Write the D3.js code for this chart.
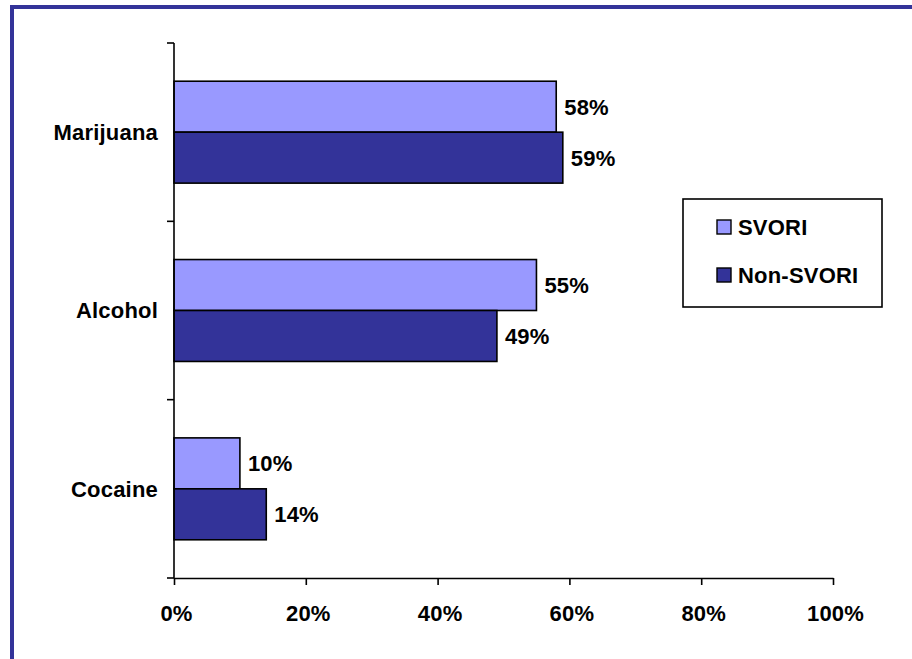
<!DOCTYPE html>
<html>
<head>
<meta charset="utf-8">
<script src="https://cdn.jsdelivr.net/npm/d3@7/dist/d3.min.js"></script>
<style>
  html, body { margin: 0; padding: 0; background: #fff; }
  svg { display: block; }
  text { font-family: Arial, "Liberation Sans", Helvetica, sans-serif; font-weight: bold; fill: #000; }
</style>
</head>
<body>
<script>
// Substance use, SVORI vs Non-SVORI participants
const categories = ["Marijuana", "Alcohol", "Cocaine"];
const seriesNames = ["SVORI", "Non-SVORI"];
const svoriValues = [58, 55, 10];
const nonSvoriValues = [59, 49, 14];
const xTicks = [0, 20, 40, 60, 80, 100];
const seriesColors = ["#9999FF", "#333399"];

const W = 912, H = 659;
const fontSize = 22;
const spacing = "0.2px";

const svg = d3.select("body").append("svg")
  .attr("width", W).attr("height", H);

// Frame: thick blue rule along the top and left edges
svg.append("rect").attr("x", 10).attr("y", 5).attr("width", W - 10).attr("height", 4).attr("fill", "#333399");
svg.append("rect").attr("x", 10).attr("y", 5).attr("width", 4).attr("height", H - 5).attr("fill", "#333399");

const plot = { left: 174, right: 833, top: 43, bottom: 578 };

const x = d3.scaleLinear().domain([0, 100]).range([plot.left, plot.right]);
const y = d3.scaleBand().domain(categories).range([plot.top, plot.bottom]).padding(0);
const ySub = d3.scaleBand().domain(seriesNames).range([0, y.bandwidth()]).paddingInner(0).paddingOuter(0.75);

const rows = categories.map((c, i) => ({
  category: c,
  values: [
    { series: seriesNames[0], value: svoriValues[i], color: seriesColors[0] },
    { series: seriesNames[1], value: nonSvoriValues[i], color: seriesColors[1] }
  ]
}));

const groups = svg.append("g").selectAll("g.cat")
  .data(rows).join("g")
  .attr("class", "cat")
  .attr("transform", d => `translate(0,${y(d.category)})`);

groups.selectAll("rect")
  .data(d => d.values).join("rect")
  .attr("x", x(0))
  .attr("y", d => ySub(d.series))
  .attr("width", d => x(d.value) - x(0))
  .attr("height", ySub.bandwidth())
  .attr("fill", d => d.color)
  .attr("stroke", "#000")
  .attr("stroke-width", 1.6);

groups.selectAll("text.val")
  .data(d => d.values).join("text")
  .attr("class", "val")
  .attr("x", d => x(d.value) + 8)
  .attr("y", d => ySub(d.series) + ySub.bandwidth() / 2)
  .attr("dy", "0.36em")
  .attr("font-size", fontSize)
  .style("letter-spacing", spacing)
  .text(d => d.value + "%");

// X axis
const xAxis = svg.append("g")
  .attr("transform", `translate(0,${plot.bottom})`)
  .call(d3.axisBottom(x).tickValues(xTicks).tickFormat(d => d + "%").tickSize(7).tickSizeOuter(0));
xAxis.select(".domain").attr("stroke", "#000").attr("stroke-width", 1.6);
xAxis.selectAll(".tick line").attr("stroke", "#000").attr("stroke-width", 1.6);
xAxis.selectAll(".tick text")
  .attr("y", 27).attr("dy", "0.71em").attr("dx", 2)
  .attr("font-size", fontSize)
  .attr("font-family", null)
  .style("letter-spacing", spacing);

// Y axis: ticks sit on the category boundaries
const yAxisG = svg.append("g").attr("transform", `translate(${plot.left},0)`);
yAxisG.append("line")
  .attr("x1", 0).attr("x2", 0).attr("y1", plot.top).attr("y2", plot.bottom)
  .attr("stroke", "#000").attr("stroke-width", 1.6);
const boundaries = categories.map(c => y(c)).concat([plot.bottom]);
yAxisG.selectAll("line.tick")
  .data(boundaries).join("line")
  .attr("class", "tick")
  .attr("x1", -7).attr("x2", 0)
  .attr("y1", d => d).attr("y2", d => d)
  .attr("stroke", "#000").attr("stroke-width", 1.6);
yAxisG.selectAll("text")
  .data(categories).join("text")
  .attr("x", -16)
  .attr("y", d => y(d) + y.bandwidth() / 2)
  .attr("dy", "0.36em")
  .attr("text-anchor", "end")
  .attr("font-size", fontSize)
  .style("letter-spacing", spacing)
  .text(d => d);

// Legend
const legend = svg.append("g").attr("transform", "translate(683,199)");
legend.append("rect")
  .attr("width", 199).attr("height", 108)
  .attr("fill", "#fff").attr("stroke", "#000").attr("stroke-width", 1.6);
const items = legend.selectAll("g.item")
  .data(seriesNames.map((s, i) => ({ name: s, color: seriesColors[i] })))
  .join("g")
  .attr("class", "item")
  .attr("transform", (d, i) => `translate(34,${21 + i * 48})`);
items.append("rect")
  .attr("width", 14).attr("height", 14)
  .attr("fill", d => d.color).attr("stroke", "#000").attr("stroke-width", 1.4);
items.append("text")
  .attr("x", 21).attr("y", 7).attr("dy", "0.36em")
  .attr("font-size", fontSize)
  .style("letter-spacing", spacing)
  .text(d => d.name);
</script>
</body>
</html>
